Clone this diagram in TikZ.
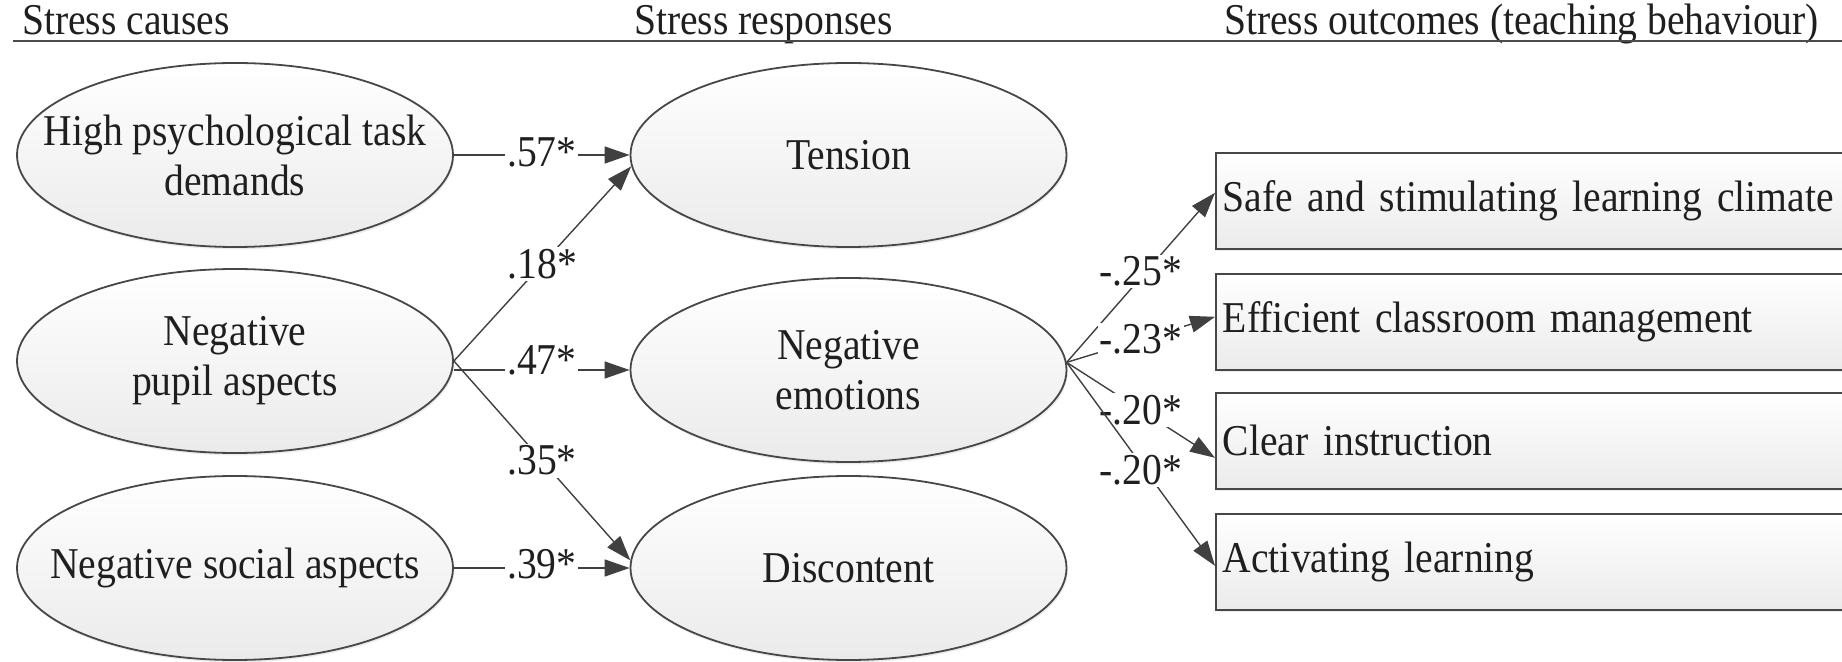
\documentclass[tikz,border=0pt]{standalone}
\usepackage{fontspec}
\setmainfont{Liberation Serif}[FakeStretch=0.9]
\usetikzlibrary{shapes.geometric,arrows.meta,shadows}
\begin{document}
\begin{tikzpicture}[x=0.5pt,y=-0.5pt,
  every node/.style={font=\fontsize{22}{25}\selectfont, text=black!88},
  ell/.style={ellipse, draw=black!72, line width=0.9pt, minimum width=218pt, minimum height=92pt,
    inner sep=0pt, top color=white, bottom color=black!8,
    drop shadow={shadow xshift=0.6pt, shadow yshift=-1.2pt, opacity=0.15}},
  txt/.style={align=center},
  outbox/.style={rectangle, draw=black!72, line width=0.8pt, anchor=north west,
    minimum width=325pt, minimum height=48pt, text width=318pt, inner xsep=3.5pt, align=left,
    top color=white, bottom color=black!8,
    drop shadow={shadow xshift=0.6pt, shadow yshift=-1.2pt, opacity=0.15}},
  conn/.style={draw=black!75, line width=0.7pt, -{Triangle[length=12.5pt,width=8.5pt]}},
  coef/.style={fill=white, inner sep=1pt},
  head/.style={anchor=base west}]
\useasboundingbox (0,0) rectangle (1842,662);

% headers
\node[head] (h1) at (15,35) {Stress causes};
\node[head] (h2) at (627,35) {Stress responses};
\node[head] (h3) at (1217,35) {Stress outcomes (teaching behaviour)};
\coordinate (ruleL) at (13,41);
\coordinate (ruleR) at (1842,41);
\draw[line width=1.2pt, draw=black!70] (ruleL) -- (ruleR);

% causes
\node[ell, label={[txt]center:{High psychological task\\demands}}] (hptd) at (235,155) {};
\node[ell, label={[txt]center:{Negative\\pupil aspects}}] (npa) at (235,361) {};
\node[ell, label={[txt]center:{Negative social aspects}}] (nsa) at (235,568) {};

% responses
\node[ell, label={[txt]center:{Tension}}] (ten) at (848.5,155) {};
\node[ell, label={[txt]center:{Negative\\emotions}}] (ne) at (848.5,370) {};
\node[ell, label={[txt]center:{Discontent}}] (dis) at (848.5,568) {};

% outcomes
\node[outbox] (r1) at (1215,152) {Safe and stimulating learning climate};
\node[outbox] (r2) at (1215,273) {Efficient classroom management};
\node[outbox] (r3) at (1215,392) {Clear instruction};
\node[outbox] (r4) at (1215,513) {Activating learning};

% connectors
\draw[conn] (hptd.east) -- node[coef, yshift=1.5pt]{.57*} (ten.west);
\draw[conn] (npa.east) -- node[coef]{.18*} (ten.183);
\draw[conn] (npa.east |- ne.west) -- node[coef, yshift=5pt]{.47*} (ne.west);
\draw[conn] (npa.east) -- node[coef]{.35*} (dis.178);
\draw[conn] (nsa.east) -- node[coef, yshift=2pt]{.39*} (dis.west);

\draw[conn] (ne.2) -- node[coef, yshift=3pt]{-.25*} ([yshift=4pt]r1.west);
\draw[conn] (ne.2) -- node[coef]{-.23*} ([yshift=2.5pt]r2.west);
\draw[conn] (ne.2) -- node[coef]{-.20*} ([yshift=-8.5pt]r3.west);
\draw[conn] (ne.2) -- node[coef, yshift=-3pt]{-.20*} ([yshift=-2pt]r4.west);
\end{tikzpicture}
\end{document}
